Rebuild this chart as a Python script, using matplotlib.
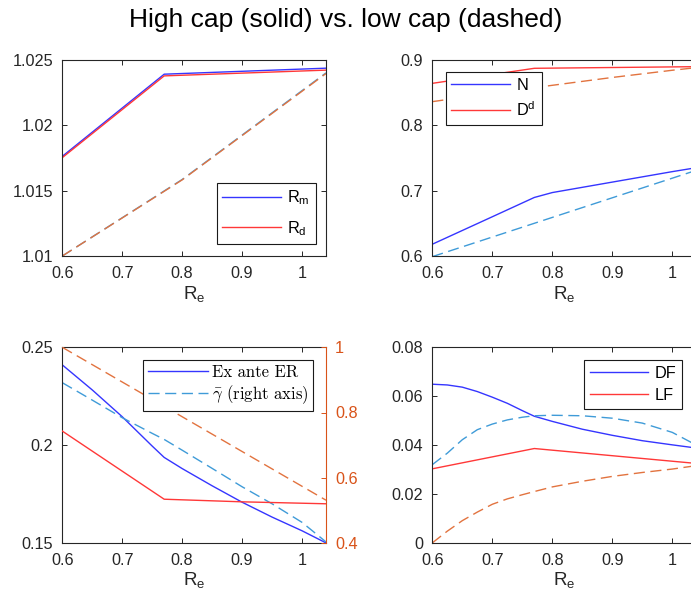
import matplotlib
matplotlib.use("Agg")
import matplotlib.pyplot as plt
from matplotlib.ticker import FuncFormatter
from matplotlib.font_manager import FontProperties

plt.rcParams['font.family'] = ['Liberation Sans', 'DejaVu Sans']
plt.rcParams['mathtext.fontset'] = 'custom'
plt.rcParams['mathtext.rm'] = 'Liberation Sans'
plt.rcParams['mathtext.it'] = 'Liberation Sans:italic'
plt.rcParams['mathtext.bf'] = 'Liberation Sans:bold'

# ---------------- data ----------------
# Top-left: R_m, R_d
tl_x_high = [0.6, 0.77, 1.04]
Rm_high = [1.01762, 1.02390, 1.02436]
Rd_high = [1.01752, 1.02377, 1.02421]
tl_x_low = [0.6, 0.8, 1.04]
Rm_low = [1.0100, 1.01585, 1.02400]
Rd_low = [1.0100, 1.01582, 1.02395]

# Top-right: N, D^d
tr_x_N_high = [0.6, 0.7, 0.77, 0.8, 0.85, 0.9, 0.95, 1.0, 1.04]
N_high = [0.618, 0.660, 0.6895, 0.697, 0.705, 0.713, 0.721, 0.729, 0.735]
tr_x_N_low = [0.6, 0.77, 1.04]
N_low = [0.599, 0.650, 0.731]
tr_x_D_high = [0.6, 0.77, 1.04]
Dd_high = [0.864, 0.887, 0.8895]
tr_x_D_low = [0.6, 0.7, 0.8, 0.9, 1.0, 1.04]
Dd_low = [0.836, 0.849, 0.861, 0.873, 0.884, 0.888]

# Bottom-left: Ex ante ER (left axis), gamma bar (right axis)
bl_x = [0.6, 0.65, 0.7, 0.75, 0.77, 0.8, 0.85, 0.9, 0.95, 1.0, 1.04]
ER_high = [0.2410, 0.2282, 0.2145, 0.1995, 0.1937, 0.1880, 0.1792, 0.1708, 0.1632, 0.1562, 0.1500]
ER_low = [0.2319, 0.2230, 0.2140, 0.2060, 0.2029, 0.1974, 0.1881, 0.1787, 0.1700, 0.1605, 0.1505]
bl_x_g_high = [0.6, 0.77, 0.9, 1.04]
gamma_high = [0.743, 0.534, 0.526, 0.520]
bl_x_g_low = [0.6, 0.8, 1.04]
gamma_low = [1.0, 0.787, 0.531]

# Bottom-right: DF, LF
br_x = [0.6, 0.625, 0.65, 0.675, 0.7, 0.725, 0.75, 0.77, 0.8, 0.85, 0.9, 0.95, 1.0, 1.04]
DF_high = [0.0649, 0.0646, 0.0637, 0.0619, 0.0596, 0.0571, 0.0541, 0.0518, 0.0497, 0.0465, 0.0440, 0.0418, 0.0401, 0.0388]
DF_low = [0.0320, 0.0367, 0.0422, 0.0463, 0.0486, 0.0503, 0.0514, 0.0520, 0.0522, 0.0520, 0.0510, 0.0490, 0.0452, 0.0400]
br_x_LF_high = [0.6, 0.77, 1.04]
LF_high = [0.0303, 0.0386, 0.0325]
LF_low = [0.0, 0.0048, 0.0091, 0.0126, 0.0158, 0.0180, 0.0197, 0.0210, 0.0229, 0.0252, 0.0272, 0.0288, 0.0302, 0.0316]

x_ticks = [0.6, 0.7, 0.8, 0.9, 1.0]
x_lim = (0.6, 1.04)

# ---------------- style ----------------
C_BLUE = '#3535ff'
C_RED = '#ff3838'
C_LBLUE = '#3f9bd8'
C_ORANGE = '#e2733f'
C_AXIS = '#262626'
C_RAXIS = '#D95319'
LW = 1.0
DASH = (8, 4)

fig = plt.figure(figsize=(6.91, 6.07), dpi=100)
W, H = 691.0, 607.0

def make_ax(l, t, r, b):
    return fig.add_axes([l / W, 1 - b / H, (r - l) / W, (b - t) / H])

ax_tl = make_ax(62.3, 59.8, 326.0, 256.0)
ax_tr = make_ax(432.3, 59.8, 696.3, 256.0)
ax_bl = make_ax(62.3, 347.3, 326.0, 542.9)
ax_br = make_ax(432.3, 347.3, 696.3, 542.9)

fmt = FuncFormatter(lambda v, p: ('%g' % round(v, 6)))

def style(ax, right=True):
    for s in ax.spines.values():
        s.set_color(C_AXIS)
        s.set_linewidth(0.8)
    ax.tick_params(direction='in', length=3.5, width=0.7, colors=C_AXIS,
                   labelsize=11.7, top=True, right=right, pad=6.5)
    ax.tick_params(axis='x', pad=7)
    ax.set_xlim(*x_lim)
    ax.set_xticks(x_ticks)
    ax.xaxis.set_major_formatter(fmt)
    ax.yaxis.set_major_formatter(fmt)
    ax.set_xlabel(r'$\mathrm{R}_\mathrm{e}$', fontsize=13.5, color=C_AXIS, labelpad=2)

def leg(ax, handles, labels, loc, bbox, fontsize, hl, serif=False, spacing=0.45,
        bpad=0.35, tpad=0.4):
    if serif:
        prop = FontProperties(family='cmr10', size=fontsize, math_fontfamily='cm')
    else:
        prop = {'size': fontsize}
    lg = ax.legend(handles, labels, loc=loc, bbox_to_anchor=bbox,
                   bbox_transform=fig.transFigure, prop=prop,
                   handlelength=hl, fancybox=False, framealpha=1,
                   edgecolor='#1a1a1a', borderpad=bpad, labelspacing=spacing,
                   handletextpad=tpad, borderaxespad=0)
    lg.get_frame().set_linewidth(0.8)
    lg.set_zorder(10)
    return lg

# Top-left
l1, = ax_tl.plot(tl_x_high, Rm_high, color=C_BLUE, lw=LW)
l2, = ax_tl.plot(tl_x_high, Rd_high, color=C_RED, lw=LW)
ax_tl.plot(tl_x_low, Rm_low, color=C_LBLUE, lw=LW, dashes=DASH)
ax_tl.plot(tl_x_low, Rd_low, color=C_ORANGE, lw=LW, dashes=DASH)
style(ax_tl)
ax_tl.set_ylim(1.01, 1.025)
ax_tl.set_yticks([1.01, 1.015, 1.02, 1.025])
leg(ax_tl, [l1, l2], [r'$\mathrm{R}_\mathrm{m}$', r'$\mathrm{R}_\mathrm{d}$'],
    'lower right', (315.5 / W, 1 - 243.5 / H), 11.7, 3.6, spacing=0.72)

# Top-right
m1, = ax_tr.plot(tr_x_N_high, N_high, color=C_BLUE, lw=LW)
m2, = ax_tr.plot(tr_x_D_high, Dd_high, color=C_RED, lw=LW)
ax_tr.plot(tr_x_N_low, N_low, color=C_LBLUE, lw=LW, dashes=DASH)
ax_tr.plot(tr_x_D_low, Dd_low, color=C_ORANGE, lw=LW, dashes=DASH)
style(ax_tr)
ax_tr.set_ylim(0.6, 0.9)
ax_tr.set_yticks([0.6, 0.7, 0.8, 0.9])
leg(ax_tr, [m1, m2], ['N', r'$\mathrm{D}^\mathrm{d}$'],
    'upper left', (445.7 / W, 1 - 72.3 / H), 11.7, 3.6)

# Bottom-left
b1, = ax_bl.plot(bl_x, ER_high, color=C_BLUE, lw=LW)
b2, = ax_bl.plot(bl_x, ER_low, color=C_LBLUE, lw=LW, dashes=DASH)
style(ax_bl, right=False)
ax_bl.set_ylim(0.15, 0.25)
ax_bl.set_yticks([0.15, 0.2, 0.25])
ax_bl2 = ax_bl.twinx()
ax_bl2.plot(bl_x_g_high, gamma_high, color=C_RED, lw=LW)
ax_bl2.plot(bl_x_g_low, gamma_low, color=C_ORANGE, lw=LW, dashes=DASH)
ax_bl2.set_ylim(0.4, 1.0)
ax_bl2.set_yticks([0.4, 0.6, 0.8, 1.0])
ax_bl2.yaxis.set_major_formatter(fmt)
for s in ax_bl2.spines.values():
    s.set_visible(False)
ax_bl2.spines['right'].set_visible(True)
ax_bl2.spines['right'].set_color(C_RAXIS)
ax_bl2.spines['right'].set_linewidth(0.8)
ax_bl.spines['right'].set_visible(False)
ax_bl2.tick_params(axis='y', direction='in', length=3.5, width=0.7, colors=C_RAXIS,
                   labelsize=11.7, pad=6.5)
leg(ax_bl2, [b1, b2], ['Ex ante ER', r'$\bar{\gamma}$ (right axis)'],
    'upper right', (313.3 / W, 1 - 360.0 / H), 12, 3.6, serif=True, spacing=0.15,
    bpad=0.3, tpad=0.25)

# Bottom-right
n1, = ax_br.plot(br_x, DF_high, color=C_BLUE, lw=LW)
n2, = ax_br.plot(br_x_LF_high, LF_high, color=C_RED, lw=LW)
ax_br.plot(br_x, DF_low, color=C_LBLUE, lw=LW, dashes=DASH)
ax_br.plot(br_x, LF_low, color=C_ORANGE, lw=LW, dashes=DASH)
style(ax_br)
ax_br.set_ylim(0, 0.08)
ax_br.set_yticks([0, 0.02, 0.04, 0.06, 0.08])
leg(ax_br, [n1, n2], ['DF', 'LF'],
    'upper right', (682.3 / W, 1 - 360.0 / H), 11.7, 3.6)

fig.text(0.5, 1 - 20.5 / H, 'High cap (solid) vs. low cap (dashed)', ha='center', va='center',
         fontsize=19, color='black')

fig.savefig('out.png', dpi=100)
